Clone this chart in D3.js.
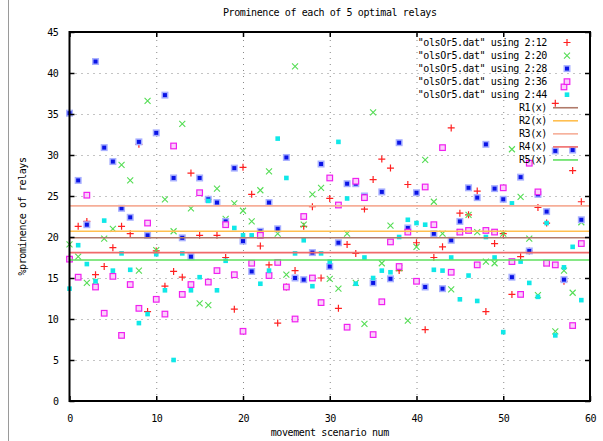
<!DOCTYPE html>
<html>
<head>
<meta charset="utf-8">
<script src="https://cdn.jsdelivr.net/npm/d3@7"></script>
<style>
body { margin: 0; background: #fff; }
text { font-family: "DejaVu Sans Mono", monospace; font-size: 10px; fill: #000; letter-spacing: -0.4px; }
.grid line { stroke: #888; stroke-dasharray: 1,5; }
.grid path { display: none; }
</style>
</head>
<body>
<svg width="603" height="441"></svg>
<script>
var svg = d3.select('svg');

// scenario numbers on the x axis
var scenarios = [0,1,2,3,4,5,6,7,8,9,10,11,12,13,14,15,16,17,18,19,
    20,21,22,23,24,25,26,27,28,29,30,31,32,33,34,35,36,37,38,39,
    40,41,42,43,44,45,46,47,48,49,50,51,52,53,54,55,56,57,58,59];

// "olsOr5.dat" using 2:12
var col12 = [17.5,21.3,21.9,15.4,16.4,18.7,21.3,20.4,31.3,10.9,
    18.3,14.0,15.8,15.1,27.8,20.2,24.6,20.2,17.5,11.2,
    28.5,25.2,18.9,16.6,9.5,13.9,15.9,21.3,23.7,15.0,
    24.7,11.3,19.1,18.0,23.4,27.0,29.5,28.4,15.9,26.4,
    19.3,8.7,17.5,18.8,33.3,22.9,22.7,25.6,10.9,19.2,
    20.4,13.0,17.6,18.3,23.6,21.7,36.3,14.6,28.1,24.3];
// "olsOr5.dat" using 2:20
var col20 = [19.1,17.6,14.4,14.6,19.8,21.0,28.8,26.9,15.9,36.6,
    18.4,24.6,20.7,33.8,23.5,11.9,11.7,25.9,22.2,24.1,
    23.2,21.9,25.7,28.0,20.4,15.4,40.8,21.5,25.2,26.0,
    14.9,13.7,20.4,14.4,9.4,35.2,16.8,21.4,16.2,9.8,
    18.8,29.4,24.3,20.4,13.6,20.6,22.7,20.6,17.0,16.8,
    20.4,30.7,24.9,19.8,12.9,16.8,8.5,15.9,13.2,21.8];
// "olsOr5.dat" using 2:28
var col28 = [35.1,26.9,21.5,41.4,30.9,29.2,23.5,22.4,31.6,20.2,
    32.7,37.3,27.2,19.9,17.6,27.2,24.6,24.2,21.9,28.4,
    19.5,15.8,20.7,24.2,21.0,29.7,15.0,14.8,18.1,28.9,
    16.4,19.3,26.5,26.5,25.0,14.4,25.5,14.9,31.5,21.1,
    25.4,13.9,20.4,13.7,19.6,21.9,26.0,24.8,31.3,25.9,
    24.6,15.1,27.3,18.3,25.2,23.1,30.5,14.8,30.6,22.1];
// "olsOr5.dat" using 2:36
var col36 = [17.3,15.1,25.1,13.9,10.7,15.2,8.0,14.2,11.3,21.7,
    12.4,10.6,31.1,13.0,14.2,25.4,14.5,15.9,21.5,15.4,
    8.5,16.8,20.2,15.3,16.9,13.9,10.0,22.5,15.0,12.0,
    27.2,23.9,9.0,26.8,24.8,8.1,12.1,19.4,16.4,20.6,
    14.6,26.1,21.5,30.9,15.7,20.6,20.8,16.6,20.8,20.6,
    26.0,17.0,13.0,29.0,25.5,16.8,16.6,38.3,9.2,19.2];
// "olsOr5.dat" using 2:44
var col44 = [13.7,19.0,16.7,14.6,22.0,15.9,18.0,16.0,9.5,10.6,
    17.9,13.5,5.0,18.0,13.5,15.1,24.4,13.5,17.1,21.1,
    20.2,20.2,14.3,15.9,32.0,27.2,18.0,19.6,14.0,18.0,
    17.0,31.6,24.7,14.3,17.5,15.0,15.9,15.7,20.0,22.1,
    21.7,21.5,16.0,15.9,17.5,12.4,15.3,12.2,20.0,17.5,
    8.4,24.1,17.0,14.4,12.7,21.7,8.0,16.3,18.8,12.3];

// constant relay levels R1..R5
var relayNames = ['R1(x)', 'R2(x)', 'R3(x)', 'R4(x)', 'R5(x)'];
var relayLevels = [19.9, 20.7, 23.8, 18.1, 17.2];
var relayColors = ['#b07a6a', '#ffbf50', '#f6ae98', '#f06a6a', '#5ee05e'];

var seriesNames = ['"olsOr5.dat" using 2:12', '"olsOr5.dat" using 2:20', '"olsOr5.dat" using 2:28',
    '"olsOr5.dat" using 2:36', '"olsOr5.dat" using 2:44'];
var seriesData = [col12, col20, col28, col36, col44];
var seriesMarks = ['plus', 'cross', 'star', 'box', 'fbox'];

var xTicks = [0, 10, 20, 30, 40, 50, 60];
var yTicks = [0, 5, 10, 15, 20, 25, 30, 35, 40, 45];

// plot area
var plot = {l: 69.5, r: 590, t: 32, b: 401};
var xScale = d3.scaleLinear().domain([0, 60]).range([plot.l, plot.r]);
var yScale = d3.scaleLinear().domain([0, 45]).range([plot.b, plot.t]);

// page edge line on the left
svg.append('line').attr('x1', 8.5).attr('x2', 8.5).attr('y1', 0).attr('y2', 441)
    .attr('stroke', '#9a9a9a').attr('stroke-width', 1);

// dotted grid
svg.append('g').attr('class', 'grid')
    .attr('transform', 'translate(' + [0, plot.b] + ')')
    .call(d3.axisBottom(xScale).tickValues(xTicks.slice(1, -1)).tickSize(-(plot.b - plot.t)).tickFormat(''));
svg.append('g').attr('class', 'grid')
    .attr('transform', 'translate(' + [plot.l, 0] + ')')
    .call(d3.axisLeft(yScale).tickValues(yTicks.slice(1, -1)).tickSize(-(plot.r - plot.l)).tickFormat(''));

// draw one marker of a given kind
function drawMark(g, kind, x, y) {
    if (kind === 'plus') {
        g.append('path').attr('d', 'M' + (x - 3.5) + ',' + y + 'H' + (x + 3.5) + 'M' + x + ',' + (y - 3.5) + 'V' + (y + 3.5))
            .attr('stroke', '#ff2020').attr('stroke-width', 1.2).attr('fill', 'none');
    } else if (kind === 'cross') {
        g.append('path').attr('d', 'M' + (x - 3) + ',' + (y - 3) + 'L' + (x + 3) + ',' + (y + 3) + 'M' + (x - 3) + ',' + (y + 3) + 'L' + (x + 3) + ',' + (y - 3))
            .attr('stroke', '#55dd55').attr('stroke-width', 1.1).attr('fill', 'none');
    } else if (kind === 'star') {
        g.append('rect').attr('x', x - 3.5).attr('y', y - 3.5).attr('width', 7).attr('height', 7).attr('fill', '#a8b0ff');
        g.append('rect').attr('x', x - 2).attr('y', y - 2).attr('width', 4).attr('height', 4).attr('fill', '#0a14e6');
    } else if (kind === 'box') {
        g.append('rect').attr('x', x - 2.8).attr('y', y - 2.8).attr('width', 5.6).attr('height', 5.6)
            .attr('fill', '#fbd0fb').attr('stroke', '#f020f0').attr('stroke-width', 1.2);
    } else {
        g.append('rect').attr('x', x - 2.3).attr('y', y - 2.3).attr('width', 4.6).attr('height', 4.6).attr('fill', '#10e8e8');
    }
}

// points, one series after another
var pointsG = svg.append('g');
seriesData.forEach(function(values, s) {
    values.forEach(function(v, i) {
        drawMark(pointsG, seriesMarks[s], xScale(scenarios[i]), yScale(v));
    });
});

// relay levels
svg.append('g').selectAll('line')
    .data(relayLevels)
    .enter().append('line')
    .attr('x1', plot.l).attr('x2', plot.r)
    .attr('y1', function(d) { return yScale(d); })
    .attr('y2', function(d) { return yScale(d); })
    .attr('stroke', function(d, i) { return relayColors[i]; })
    .attr('stroke-width', 1.6);

// border
svg.append('rect').attr('x', plot.l).attr('y', plot.t)
    .attr('width', plot.r - plot.l).attr('height', plot.b - plot.t)
    .attr('fill', 'none').attr('stroke', '#000').attr('stroke-width', 2);

// inward ticks on all sides + labels
var tickLen = 5;
var axB = svg.append('g').attr('transform', 'translate(' + [0, plot.b] + ')')
    .call(d3.axisBottom(xScale).tickValues(xTicks).tickSize(-tickLen).tickPadding(9 + tickLen));
var axT = svg.append('g').attr('transform', 'translate(' + [0, plot.t] + ')')
    .call(d3.axisTop(xScale).tickValues(xTicks).tickSize(-tickLen).tickFormat(''));
var axL = svg.append('g').attr('transform', 'translate(' + [plot.l, 0] + ')')
    .call(d3.axisLeft(yScale).tickValues(yTicks).tickSize(-tickLen).tickPadding(6 + tickLen));
var axR = svg.append('g').attr('transform', 'translate(' + [plot.r, 0] + ')')
    .call(d3.axisRight(yScale).tickValues(yTicks).tickSize(-tickLen).tickFormat(''));
[axB, axT, axL, axR].forEach(function(a) {
    a.select('.domain').remove();
    a.selectAll('line').attr('stroke', '#000').attr('stroke-width', 1.5);
    a.selectAll('text').attr('font-family', null).attr('font-size', null).attr('fill', null);
});

// legend
var legRowY = function(i) { return 42.5 + 13.05 * i; };
var legText = 547, legMark = 567;
var legend = svg.append('g');
seriesNames.forEach(function(name, s) {
    legend.append('text').attr('x', legText).attr('y', legRowY(s)).attr('dy', '0.35em')
        .attr('text-anchor', 'end').text(name);
    drawMark(legend, seriesMarks[s], legMark, legRowY(s));
});
relayNames.forEach(function(name, k) {
    var y = legRowY(k + 5);
    legend.append('text').attr('x', legText).attr('y', y).attr('dy', '0.35em')
        .attr('text-anchor', 'end').text(name);
    legend.append('line').attr('x1', 553).attr('x2', 578).attr('y1', y).attr('y2', y)
        .attr('stroke', relayColors[k]).attr('stroke-width', 1.6);
});

// titles
svg.append('text').attr('x', (plot.l + plot.r) / 2).attr('y', 16)
    .attr('text-anchor', 'middle').text('Prominence of each of 5 optimal relays');
svg.append('text').attr('x', (plot.l + plot.r) / 2).attr('y', 436)
    .attr('text-anchor', 'middle').text('movement scenario num');
svg.append('text').attr('transform', 'translate(' + [26, (plot.t + plot.b) / 2] + ')rotate(-90)')
    .attr('text-anchor', 'middle').text('%prominence of relays');
</script>
</body>
</html>
